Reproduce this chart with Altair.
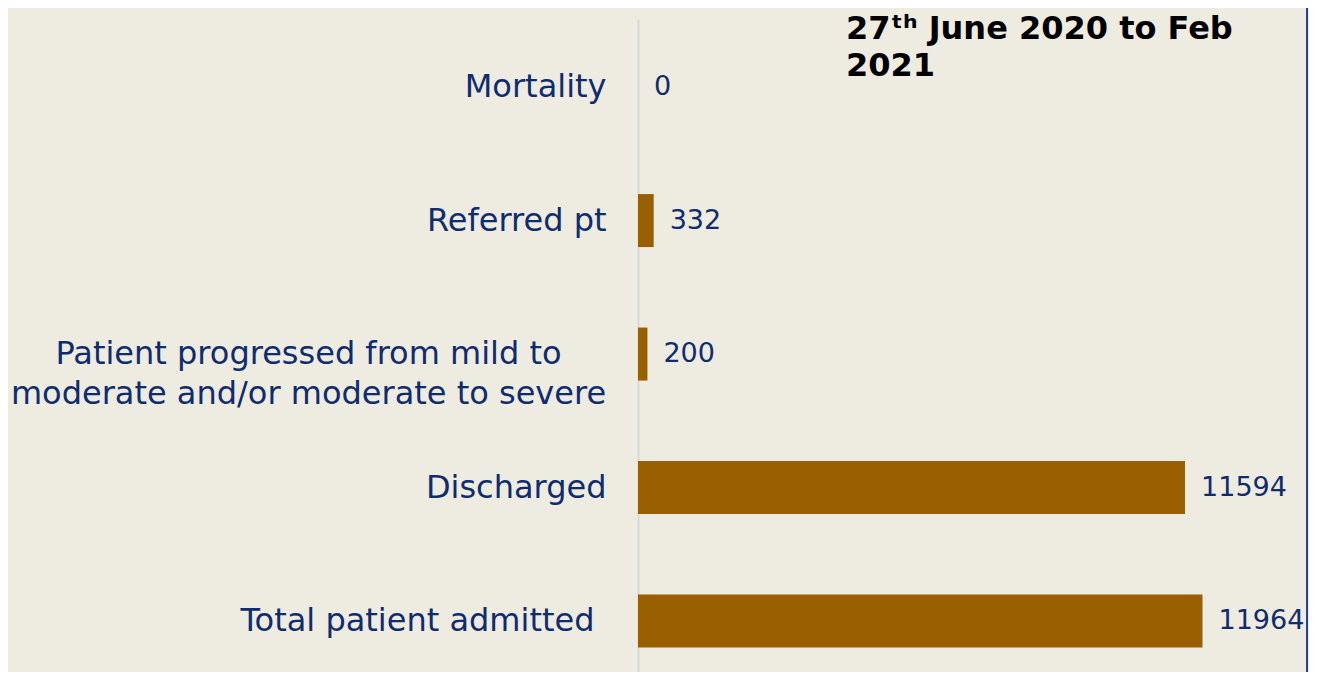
import altair as alt
import pandas as pd

categories = [
    "Mortality",
    "Referred pt",
    "Patient progressed from mild to\nmoderate and/or moderate to severe",
    "Discharged",
    "Total patient admitted",
]
values = [0, 332, 200, 11594, 11964]
title_lines = ["27ᵗʰ June 2020 to Feb", "2021"]

df = pd.DataFrame({"category": categories, "value": values})

W, H = 670, 653
BG = "#EEEBE0"
NAVY = "#0F2C6E"
BAR = "#9A5F00"
FONT = "DejaVu Sans"

multi_test = "indexof(datum.value, 'Patient progressed') >= 0"
total_test = "datum.value == 'Total patient admitted'"

y = alt.Y(
    "category:N",
    sort=categories,
    title=None,
    scale=alt.Scale(paddingInner=0.603, paddingOuter=0.247, align=0.63),
    axis=alt.Axis(
        labelExpr="split(datum.label, '\\n')",
        labelFont=FONT,
        labelFontSize=32,
        labelColor=NAVY,
        labelLineHeight=40,
        labelAlign=alt.condition(multi_test, alt.value("center"), alt.value("right")),
        labelPadding={
            "condition": [
                {"test": multi_test, "value": 330},
                {"test": total_test, "value": 44},
            ],
            "value": 32,
        },
        labelLimit=0,
        ticks=False,
        domain=True,
        domainColor="#D9D9D9",
        domainWidth=2,
        grid=False,
    ),
)
x = alt.X("value:Q", scale=alt.Scale(domain=[0, 14200]), axis=None)

bars = alt.Chart(df).mark_bar(color=BAR).encode(x=x, y=y)
labels = alt.Chart(df).mark_text(
    align="left", baseline="middle", dx=16, font=FONT, fontSize=27, color=NAVY
).encode(x=x, y=y, text=alt.Text("value:Q", format="d"))
border = alt.Chart(pd.DataFrame({"b": [0]})).mark_rule(
    color="#2B3F8C", strokeWidth=2
).encode(x=alt.value(W - 1), y=alt.value(-11), y2=alt.value(H + 11))

chart = (
    alt.layer(bars, labels, border)
    .properties(
        width=W,
        height=H,
        padding={"left": 630, "top": 11, "right": 1, "bottom": 0},
        autosize=alt.AutoSizeParams(type="none"),
        background=BG,
        title=alt.TitleParams(
            text=title_lines,
            anchor="start",
            frame="group",
            dx=208,
            dy=76,
            offset=0,
            baseline="top",
            fontSize=32,
            font=FONT,
            fontWeight="bold",
            color="black",
            lineHeight=37,
        ),
    )
    .configure_view(stroke=None)
)

chart.save("out.html", embed_options={"renderer": "svg", "actions": False})
